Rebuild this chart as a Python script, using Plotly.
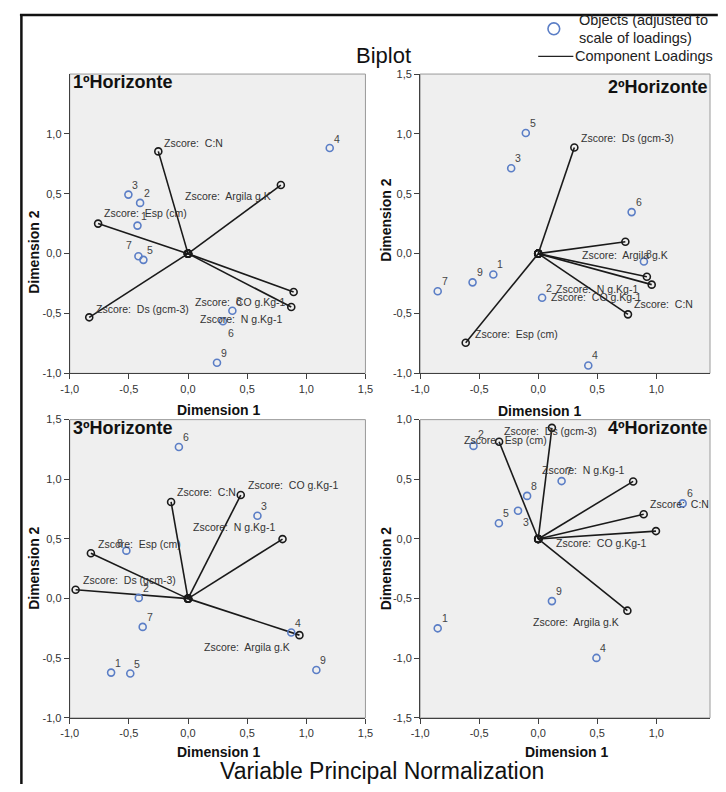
import plotly.graph_objects as go

# The page keeps its default 8px body margin, so the figure is made 16px smaller
# than the window and every layout position below is given in window pixels.
WIN_W, WIN_H = 726, 792
PAGE_MARGIN = 8
W, H = WIN_W - 2 * PAGE_MARGIN, WIN_H - 2 * PAGE_MARGIN

# ---------------- data ----------------
var_names = ["Esp (cm)", "Ds (gcm-3)", "CO g.Kg-1", "N g.Kg-1", "C:N", "Argila g.K"]
obj_ids = ["1", "2", "3", "4", "5", "6", "7", "8", "9"]

h1_load_d1 = [-0.760, -0.835, 0.893, 0.873, -0.251, 0.785]
h1_load_d2 = [0.251, -0.532, -0.320, -0.446, 0.854, 0.573]
h1_obj_d1 = [-0.427, -0.405, -0.504, 1.198, -0.377, 0.295, -0.419, 0.375, 0.245]
h1_obj_d2 = [0.234, 0.424, 0.493, 0.882, -0.052, -0.565, -0.022, -0.477, -0.912]

h2_load_d1 = [-0.614, 0.306, 0.961, 0.920, 0.760, 0.738]
h2_load_d2 = [-0.744, 0.887, -0.259, -0.193, -0.507, 0.099]
h2_obj_d1 = [-0.380, 0.033, -0.229, 0.424, -0.105, 0.791, -0.851, 0.895, -0.556]
h2_obj_d2 = [-0.174, -0.369, 0.713, -0.934, 1.008, 0.347, -0.314, -0.066, -0.240]

h3_load_d1 = [-0.821, -0.950, 0.446, 0.799, -0.143, 0.942]
h3_load_d2 = [0.380, 0.074, 0.868, 0.499, 0.810, -0.306]
h3_obj_d1 = [-0.650, -0.416, 0.587, 0.873, -0.488, -0.077, -0.383, -0.521, 1.085]
h3_obj_d2 = [-0.620, 0.006, 0.694, -0.284, -0.628, 1.270, -0.237, 0.402, -0.598]

h4_load_d1 = [-0.331, 0.116, 0.997, 0.804, 0.893, 0.755]
h4_load_d2 = [0.815, 0.931, 0.066, 0.482, 0.207, -0.601]
h4_obj_d1 = [-0.851, -0.548, -0.171, 0.493, -0.333, 1.223, 0.198, -0.094, 0.116]
h4_obj_d2 = [-0.749, 0.780, 0.237, -0.997, 0.132, 0.298, 0.485, 0.361, -0.521]

panel_titles = ["1ºHorizonte", "2ºHorizonte", "3ºHorizonte", "4ºHorizonte"]
tick_vals_x = [[-1.0, -0.5, 0.0, 0.5, 1.0, 1.5], [-1.0, -0.5, 0.0, 0.5, 1.0],
               [-1.0, -0.5, 0.0, 0.5, 1.0, 1.5], [-1.0, -0.5, 0.0, 0.5, 1.0]]
tick_vals_y = [[-1.0, -0.5, 0.0, 0.5, 1.0], [-1.0, -0.5, 0.0, 0.5, 1.0, 1.5],
               [-1.0, -0.5, 0.0, 0.5, 1.0, 1.5], [-1.5, -1.0, -0.5, 0.0, 0.5, 1.0]]

# ---------------- layout config ----------------
FONT = "Liberation Sans, Arial, sans-serif"
OBJ_COLOR = "#5b7ec6"
TXT = "#333333"


def px(x):
    return (x - PAGE_MARGIN) / W


def py(y):
    return 1 - (y - PAGE_MARGIN) / H


def fmt(v):
    return ("%.1f" % v).replace(".", ",")


RIGHT_EDGE = PAGE_MARGIN + W  # 718
panels = [
    dict(loads=(h1_load_d1, h1_load_d2), objs=(h1_obj_d1, h1_obj_d2),
         xdom=(62, 365), ydom=(69, 373), xr=[-1, 1.5], yr=[-1, 1.5]),
    dict(loads=(h2_load_d1, h2_load_d2), objs=(h2_obj_d1, h2_obj_d2),
         xdom=(421, RIGHT_EDGE), ydom=(69, 373), xr=[-1, -1 + (RIGHT_EDGE - 421) / 121.0], yr=[-1, 1.5]),
    dict(loads=(h3_load_d1, h3_load_d2), objs=(h3_obj_d1, h3_obj_d2),
         xdom=(62, 365), ydom=(420, 723), xr=[-1, 1.5], yr=[-1, 1.5]),
    dict(loads=(h4_load_d1, h4_load_d2), objs=(h4_obj_d1, h4_obj_d2),
         xdom=(421, RIGHT_EDGE), ydom=(420, 723), xr=[-1, -1 + (RIGHT_EDGE - 421) / 121.0], yr=[-1.5, 1.0]),
]

# label placement (pixel shifts, anchor) for loading labels, order as var_names
load_label_pos = [
    [(4, 11, "left"), (5, 8, "left"), (-6, -10, "right"), (-7, -12, "right"), (4, 8, "left"), (-8, -11, "right")],
    [(7, 9, "left"), (5, 9, "left"), (-8, -12, "right"), (-7, -12, "right"), (4, 10, "left"), (-45, -13, "left")],
    [(5, 9, "left"), (5, 10, "left"), (5, 10, "left"), (-6, 12, "right"), (4, 10, "left"), (-7, -12, "right")],
    [(-37, 2, "left"), (-50, -3, "left"), (-7, -12, "right"), (-7, 11, "right"), (4, 10, "left"), (-6, -11, "right")],
]
# object label shifts (pixels); default upper-right
obj_label_default = (7, 10)
obj_label_special = [
    {"1": (7, 10), "4": (7, 9), "6": (8, -12), "7": (-9, 11)},
    {"8": (5, 8)},
    {"8": (-6, 8)},
    {"2": (8, 12), "3": (8, -11)},
]
title_pos = [(63, 77, "left"), (RIGHT_EDGE, 82, "right"), (63, 428, "left"), (RIGHT_EDGE, 429, "right")]
dim1_pos = [(214, 410), (543, 411), (214, 758), (571, 758)]
dim2_pos = [(26, 250), (386, 217), (26, 571), (386, 571)]

fig = go.Figure()
annotations = []
shapes = []

for i, p in enumerate(panels):
    n = "" if i == 0 else str(i + 1)
    xa, ya = "x" + n, "y" + n
    # loadings
    for k, name in enumerate(var_names):
        fig.add_trace(go.Scatter(
            x=[0, p["loads"][0][k]], y=[0, p["loads"][1][k]],
            xaxis=xa, yaxis=ya, mode="lines+markers",
            line=dict(color="#1a1a1a", width=1.6),
            marker=dict(symbol="circle-open", size=7, color="#1a1a1a", line=dict(width=1.6)),
            showlegend=False, hoverinfo="skip", cliponaxis=False))
        dx, dy, anc = load_label_pos[i][k]
        annotations.append(dict(
            x=p["loads"][0][k], y=p["loads"][1][k], xref=xa, yref=ya,
            text="Zscore:\u00a0 " + name, showarrow=False, xanchor=anc, yanchor="middle",
            xshift=dx, yshift=dy, font=dict(family=FONT, size=10.5, color=TXT)))
    # objects
    fig.add_trace(go.Scatter(
        x=p["objs"][0], y=p["objs"][1], xaxis=xa, yaxis=ya, mode="markers",
        marker=dict(symbol="circle-open", size=7, color=OBJ_COLOR, line=dict(width=1.6)),
        showlegend=False, hoverinfo="skip"))
    for j, oid in enumerate(obj_ids):
        dx, dy = obj_label_special[i].get(oid, obj_label_default)
        annotations.append(dict(
            x=p["objs"][0][j], y=p["objs"][1][j], xref=xa, yref=ya, text=oid,
            showarrow=False, xanchor="center", yanchor="middle", xshift=dx, yshift=dy,
            font=dict(family=FONT, size=10.5, color="#444444")))

    axis_common = dict(showgrid=False, zeroline=False, showline=True, linecolor="#404040",
                       linewidth=1, ticks="outside", ticklen=5, tickcolor="#404040",
                       tickfont=dict(family=FONT, size=11, color=TXT), fixedrange=True)
    fig.layout["xaxis" + n] = dict(
        domain=[px(p["xdom"][0]), px(p["xdom"][1])], range=p["xr"], anchor=ya,
        tickvals=tick_vals_x[i], ticktext=[fmt(v) for v in tick_vals_x[i]], **axis_common)
    fig.layout["yaxis" + n] = dict(
        domain=[py(p["ydom"][1]), py(p["ydom"][0])], range=p["yr"], anchor=xa,
        tickvals=tick_vals_y[i], ticktext=[fmt(v) for v in tick_vals_y[i]], **axis_common)

    shapes.append(dict(type="rect", xref=xa + " domain", yref=ya + " domain",
                       x0=0, x1=1, y0=0, y1=1, line=dict(color="#9a9a9a", width=1), layer="below"))

    tx, ty, tanc = title_pos[i]
    annotations.append(dict(x=px(tx), y=py(ty), xref="paper", yref="paper", text="<b>%s</b>" % panel_titles[i],
                            showarrow=False, xanchor=tanc, yanchor="middle",
                            font=dict(family=FONT, size=18, color="#111111")))
    annotations.append(dict(x=px(dim1_pos[i][0]), y=py(dim1_pos[i][1]), xref="paper", yref="paper",
                            text="<b>Dimension 1</b>", showarrow=False, xanchor="center", yanchor="middle",
                            font=dict(family=FONT, size=14, color="#111111")))
    annotations.append(dict(x=px(dim2_pos[i][0]), y=py(dim2_pos[i][1]), xref="paper", yref="paper",
                            text="<b>Dimension 2</b>", showarrow=False, xanchor="center", yanchor="middle",
                            textangle=-90, font=dict(family=FONT, size=14, color="#111111")))

# overall titles
annotations.append(dict(x=px(383), y=py(50), xref="paper", yref="paper", text="Biplot", showarrow=False,
                        xanchor="center", yanchor="middle", font=dict(family=FONT, size=22, color="#111111")))
annotations.append(dict(x=px(382), y=py(777), xref="paper", yref="paper", text="Variable Principal Normalization",
                        showarrow=False, xanchor="center", yanchor="middle",
                        font=dict(family=FONT, size=23, color="#111111")))
# legend
annotations.append(dict(x=px(582), y=py(14), xref="paper", yref="paper", text="Objects (adjusted to",
                        showarrow=False, xanchor="left", yanchor="middle",
                        font=dict(family=FONT, size=14.5, color="#222222")))
annotations.append(dict(x=px(582), y=py(32), xref="paper", yref="paper", text="scale of loadings)",
                        showarrow=False, xanchor="left", yanchor="middle",
                        font=dict(family=FONT, size=14.5, color="#222222")))
annotations.append(dict(x=px(578), y=py(51), xref="paper", yref="paper", text="Component Loadings",
                        showarrow=False, xanchor="left", yanchor="middle",
                        font=dict(family=FONT, size=14.5, color="#222222")))
shapes.append(dict(type="circle", xref="paper", yref="paper", x0=px(552), x1=px(564), y0=py(29), y1=py(17),
                   line=dict(color=OBJ_COLOR, width=1.6)))
shapes.append(dict(type="line", xref="paper", yref="paper", x0=px(542), x1=px(578), y0=py(51), y1=py(51),
                   line=dict(color="#222222", width=1.2)))
# outer frame (top and left)
shapes.append(dict(type="line", xref="paper", yref="paper", x0=px(11), x1=px(WIN_W), y0=py(9), y1=py(9),
                   line=dict(color="#111111", width=2.5), layer="above"))
shapes.append(dict(type="line", xref="paper", yref="paper", x0=px(12.5), x1=px(12.5), y0=py(8), y1=py(WIN_H),
                   line=dict(color="#111111", width=2.5), layer="above"))

fig.update_layout(
    width=W, height=H, margin=dict(l=0, r=0, t=0, b=0),
    paper_bgcolor="white", plot_bgcolor="#efefef",
    annotations=annotations, shapes=shapes, showlegend=False, hovermode=False,
    font=dict(family=FONT),
)

fig.write_html("out.html", config={"displayModeBar": False, "staticPlot": True})
